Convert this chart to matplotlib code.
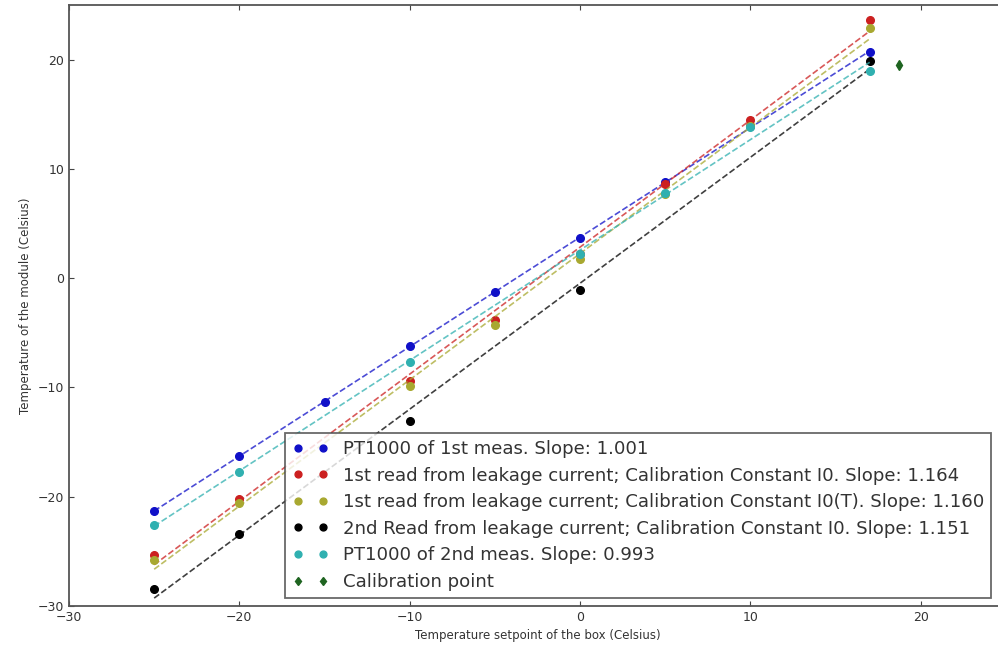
import numpy as np
import matplotlib
matplotlib.use("Agg")
import matplotlib.pyplot as plt

# ========================================================================
# data

x_pt1 = [-25, -20, -15, -10, -5, 0, 5, 10, 17]
y_pt1 = [-21.3, -16.3, -11.3, -6.2, -1.3, 3.7, 8.8, 13.9, 20.7]

x_i0 = [-25, -20, -10, -5, 0, 5, 10, 17]
y_i0 = [-25.3, -20.2, -9.4, -3.8, 2.2, 8.6, 14.5, 23.6]

x_i0t = [-25, -20, -10, -5, 0, 5, 10, 17]
y_i0t = [-25.8, -20.6, -9.9, -4.3, 1.8, 7.7, 13.9, 22.9]

x_2nd = [-25, -20, -10, 0, 17]
y_2nd = [-28.4, -23.4, -13.1, -1.1, 19.9]

x_pt2 = [-25, -20, -10, 0, 5, 10, 17]
y_pt2 = [-22.6, -17.7, -7.7, 2.2, 7.8, 13.8, 19.0]

x_cal = [18.7]
y_cal = [19.5]

labels = ["PT1000 of 1st meas. Slope: 1.001",
          "1st read from leakage current; Calibration Constant I0. Slope: 1.164",
          "1st read from leakage current; Calibration Constant I0(T). Slope: 1.160",
          "2nd Read from leakage current; Calibration Constant I0. Slope: 1.151",
          "PT1000 of 2nd meas. Slope: 0.993",
          "Calibration point"]
colors = ['#1010c8', '#cc2020', '#a8a830', '#000000', '#30b0b0', '#1e6420']

# ========================================================================
# plot

fig = plt.figure(figsize=(9.98, 6.53), dpi=100)
ax = fig.add_axes([69/998, (653-606)/653, 937/998, 601/653])

series = [(x_pt1, y_pt1), (x_i0, y_i0), (x_i0t, y_i0t), (x_2nd, y_2nd), (x_pt2, y_pt2)]
xfit = np.array([-25, 17])
for (xs, ys), col, lab in zip(series, colors, labels):
	k, d = np.polyfit(xs, ys, 1)
	ax.plot(xfit, k*xfit + d, '--', color=col, lw=1.2, alpha=0.75)
	ax.plot(xs, ys, 'o', color=col, mec=col, ms=5.5, label=lab)

ax.plot(x_cal, y_cal, 'd', color=colors[5], mec=colors[5], ms=5, label=labels[5])

ax.set_xlim(-30, 25)
ax.set_ylim(-30, 25)
ax.set_xticks([-30, -20, -10, 0, 10, 20])
ax.set_yticks([-30, -20, -10, 0, 10, 20])
ax.tick_params(direction='in', top=True, right=True, labelsize=9, colors='#444444', labelcolor='#333333')
for sp in ax.spines.values():
	sp.set_color('#555555')
	sp.set_linewidth(1.3)

ax.set_xlabel('Temperature setpoint of the box (Celsius)', fontsize=8.5, color='#333333')
ax.set_ylabel('Temperature of the module (Celsius)', fontsize=8.5, color='#333333')

leg = ax.legend(loc='lower left', bbox_to_anchor=(0.2305, 0.013), borderaxespad=0,
		numpoints=2, fontsize=13.1, fancybox=False, handlelength=1.97,
		labelspacing=0.47, handletextpad=0.8, markerscale=0.9)
leg.get_frame().set_edgecolor('#444444')
leg.get_frame().set_linewidth(1.3)
for t in leg.get_texts():
	t.set_color('#333333')

fig.savefig('out.png', dpi=100)
